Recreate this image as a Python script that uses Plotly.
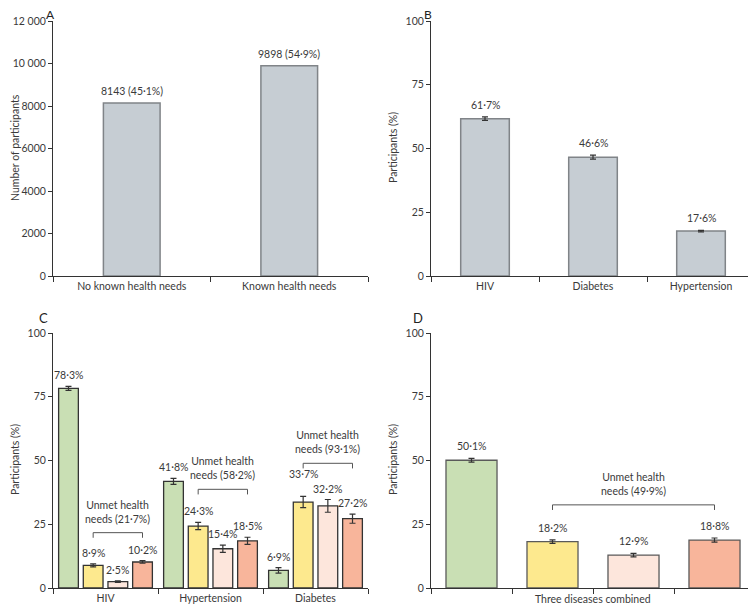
import plotly.graph_objects as go

# ---------------- data ----------------
a_cats = ["No known health needs", "Known health needs"]
a_vals = [8143, 9898]
a_pct = ["45·1%", "54·9%"]

b_cats = ["HIV", "Diabetes", "Hypertension"]
b_vals = [61.7, 46.6, 17.6]
b_err = [0.7, 0.8, 0.3]
b_text = ["61·7%", "46·6%", "17·6%"]

c_cats = ["HIV", "Hypertension", "Diabetes"]
c_met = [78.3, 41.8, 6.9]
c_met_err = [0.8, 1.2, 1.1]
c_s2 = [8.9, 24.3, 33.7]
c_s2_err = [0.6, 1.4, 2.2]
c_s3 = [2.5, 15.4, 32.2]
c_s3_err = [0.3, 1.4, 2.5]
c_s4 = [10.2, 18.5, 27.2]
c_s4_err = [0.5, 1.4, 1.8]
c_unmet = ["21·7%", "58·2%", "93·1%"]

d_cats = ["Met", "Unmet 1", "Unmet 2", "Unmet 3"]
d_vals = [50.1, 18.2, 12.9, 18.8]
d_err = [0.7, 0.7, 0.7, 0.8]
d_unmet = "49·9%"

a_ticks = [0, 2000, 4000, 6000, 8000, 10000, 12000]
a_ticktext = ["0", "2000", "4000", "6000", "8000", "10 000", "12 000"]
p_ticks = [0, 25, 50, 75, 100]

# ---------------- style ----------------
W, H = 756, 606
OFF = 8  # default page body margin in the rendered html


def px(x):
    return (x - OFF) / W


def py(y):
    return 1 - (y - OFF) / H


FONT = "Lato, 'Open Sans', sans-serif"
FS = 10.5
TXT = "#3a3a3a"
GREY_FILL = "#c6cdd3"
GREY_LINE = "#808488"
C_COLORS = ["#c9dfb4", "#fde98e", "#fde6dc", "#f8b59b"]
ERR = dict(type="data", visible=True, color="#333333", thickness=1.2, width=3)
# extra vertical nudge (px) for crowded value labels in panel C: (series, category) -> px
C_LABEL_NUDGE = {(1, 2): 11}
BRACKET_GAP = 13          # data units above the tallest unmet bar
C_BRACKET_NUDGE = {0: -2}  # data units


def fmt(v):
    return f"{v:.1f}".replace(".", "·") + "%"


fig = go.Figure()

# A
fig.add_trace(go.Bar(x=a_cats, y=a_vals, xaxis="x", yaxis="y", width=0.36,
                     marker=dict(color=GREY_FILL, line=dict(color=GREY_LINE, width=1.5)),
                     showlegend=False))
# B
fig.add_trace(go.Bar(x=b_cats, y=b_vals, xaxis="x2", yaxis="y2", width=0.45,
                     error_y=dict(array=b_err, **ERR),
                     marker=dict(color=GREY_FILL, line=dict(color=GREY_LINE, width=1.5)),
                     showlegend=False))
# C
c_series = [(c_met, c_met_err), (c_s2, c_s2_err), (c_s3, c_s3_err), (c_s4, c_s4_err)]
c_width = 0.188
c_pitch = 0.235
c_start = -(3 * c_pitch + c_width) / 2
c_offsets = [c_start + i * c_pitch for i in range(4)]
for i, (vals, err) in enumerate(c_series):
    fig.add_trace(go.Bar(x=c_cats, y=vals, xaxis="x3", yaxis="y3",
                         width=c_width, offset=c_offsets[i],
                         error_y=dict(array=err, **ERR),
                         marker=dict(color=C_COLORS[i], line=dict(color="#333333", width=1.3)),
                         showlegend=False))
# D
fig.add_trace(go.Bar(x=d_cats, y=d_vals, xaxis="x4", yaxis="y4", width=0.63,
                     error_y=dict(array=d_err, **ERR),
                     marker=dict(color=C_COLORS, line=dict(color="#5a5a5a", width=1.3)),
                     showlegend=False))

ann = []
shapes = []
lab_font = dict(family=FONT, size=FS, color=TXT)

# A labels
for i, v in enumerate(a_vals):
    ann.append(dict(x=i, y=v, xref="x", yref="y", text=f"{v} ({a_pct[i]})",
                    showarrow=False, yanchor="bottom", yshift=4, font=lab_font))
# B labels
for i, v in enumerate(b_vals):
    ann.append(dict(x=i, y=v + b_err[i], xref="x2", yref="y2", text=b_text[i],
                    showarrow=False, yanchor="bottom", yshift=4, font=lab_font))
# C labels
for s, (vals, err) in enumerate(c_series):
    for i, v in enumerate(vals):
        xc = i + c_offsets[s] + c_width / 2
        ann.append(dict(x=xc, y=v + err[i], xref="x3", yref="y3", text=fmt(v),
                        showarrow=False, yanchor="bottom",
                        yshift=3 + C_LABEL_NUDGE.get((s, i), 0), font=lab_font))
# C brackets
for i in range(3):
    tops = [c_s2[i] + c_s2_err[i], c_s3[i] + c_s3_err[i], c_s4[i] + c_s4_err[i]]
    yb = max(tops) + BRACKET_GAP + C_BRACKET_NUDGE.get(i, 0)
    x0 = i + c_offsets[1] + c_width / 2
    x1 = i + c_offsets[3] + c_width / 2
    shapes.append(dict(type="path", xref="x3", yref="y3",
                       path=f"M {x0} {yb-2} L {x0} {yb} L {x1} {yb} L {x1} {yb-2}",
                       line=dict(color="#555555", width=1)))
    ann.append(dict(x=(x0 + x1) / 2, y=yb, xref="x3", yref="y3",
                    text=f"Unmet health<br>needs ({c_unmet[i]})",
                    showarrow=False, yanchor="bottom", yshift=6, font=lab_font))
# D labels
for i, v in enumerate(d_vals):
    ann.append(dict(x=i, y=v + d_err[i], xref="x4", yref="y4", text=fmt(v),
                    showarrow=False, yanchor="bottom", yshift=4, font=lab_font))
tops = [d_vals[k] + d_err[k] for k in range(1, 4)]
yb = max(tops) + BRACKET_GAP
shapes.append(dict(type="path", xref="x4", yref="y4",
                   path=f"M 1 {yb-2} L 1 {yb} L 3 {yb} L 3 {yb-2}",
                   line=dict(color="#555555", width=1)))
ann.append(dict(x=2, y=yb, xref="x4", yref="y4",
                text=f"Unmet health<br>needs ({d_unmet})",
                showarrow=False, yanchor="bottom", yshift=6, font=lab_font))
ann.append(dict(x=0.5, y=0, xref="x4 domain", yref="y4 domain",
                text="Three diseases combined", showarrow=False,
                yanchor="top", yshift=-3, font=lab_font))

# panel letters
for letter, x in [("A", 50), ("B", 428)]:
    ann.append(dict(x=px(x), y=1, xref="paper", yref="paper", text=letter,
                    showarrow=False, xanchor="center", yanchor="top", yshift=3,
                    font=dict(family=FONT, size=12, color="#222222")))
for letter, x in [("C", 43), ("D", 418)]:
    ann.append(dict(x=px(x), y=py(318), xref="paper", yref="paper", text=letter,
                    showarrow=False, xanchor="center", yanchor="middle",
                    font=dict(family=FONT, size=13, color="#222222")))

# y-axis titles
for text, x, yc in [("Number of participants", 15, 148), ("Participants (%)", 393, 148),
                    ("Participants (%)", 15, 460), ("Participants (%)", 393, 460)]:
    ann.append(dict(x=px(x), y=py(yc), xref="paper", yref="paper", text=text,
                    textangle=-90, showarrow=False, xanchor="center", yanchor="middle",
                    font=lab_font))

XL = [px(53), px(368)]
XR = [px(431), px(755)]
YT = [py(276), py(21)]
YB = [py(588), py(333)]

axis_common = dict(showline=True, linecolor="#333333", linewidth=1, ticks="outside",
                   tickcolor="#333333", ticklen=4, showgrid=False, zeroline=False,
                   automargin=False,
                   tickfont=dict(family=FONT, size=FS, color=TXT))
xcommon = dict(axis_common, type="category", tickson="boundaries", ticklen=5)

fig.update_layout(
    width=W, height=H, margin=dict(l=0, r=0, t=0, b=0, autoexpand=False),
    paper_bgcolor="white", plot_bgcolor="white",
    font=dict(family=FONT, size=FS, color=TXT),
    barmode="overlay",
    xaxis=dict(xcommon, domain=XL, anchor="y", range=[-0.5, 1.5]),
    yaxis=dict(axis_common, domain=YT, anchor="x", range=[0, 12000],
               tickvals=a_ticks, ticktext=a_ticktext),
    xaxis2=dict(xcommon, domain=XR, anchor="y2", range=[-0.5, 2.5]),
    yaxis2=dict(axis_common, domain=YT, anchor="x2", range=[0, 100], tickvals=p_ticks),
    xaxis3=dict(xcommon, domain=XL, anchor="y3", range=[-0.5, 2.5]),
    yaxis3=dict(axis_common, domain=YB, anchor="x3", range=[0, 100], tickvals=p_ticks),
    xaxis4=dict(xcommon, domain=XR, anchor="y4", range=[-0.5, 3.5], showticklabels=False),
    yaxis4=dict(axis_common, domain=YB, anchor="x4", range=[0, 100], tickvals=p_ticks),
    annotations=ann, shapes=shapes,
)

fig.write_html("out.html")
